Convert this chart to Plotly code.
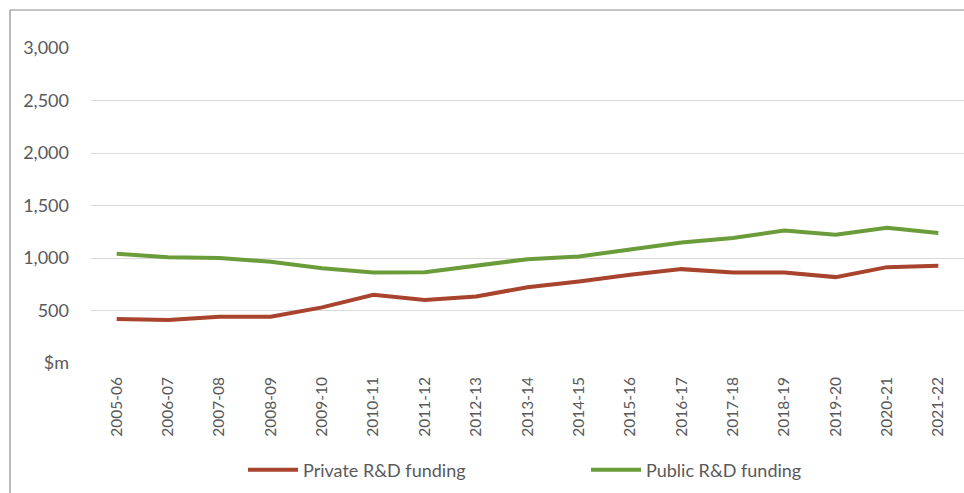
import plotly.graph_objects as go

# Financial years on the category axis
years = ["2005-06", "2006-07", "2007-08", "2008-09", "2009-10", "2010-11",
         "2011-12", "2012-13", "2013-14", "2014-15", "2015-16", "2016-17",
         "2017-18", "2018-19", "2019-20", "2020-21", "2021-22"]

# R&D funding, $m
private_rd = [420, 410, 440, 440, 530, 649, 601, 633, 722, 776, 840, 894,
              862, 862, 818, 913, 926]
public_rd = [1040, 1008, 999, 964, 903, 862, 865, 929, 989, 1014, 1078, 1148,
             1190, 1262, 1221, 1288, 1238]

y_ticks = [0, 500, 1000, 1500, 2000, 2500, 3000]
y_tick_text = ["$m", "500", "1,000", "1,500", "2,000", "2,500", "3,000"]

RED = "#A8432D"
GREEN = "#6A9C3A"
TEXT = "#595959"
FONT = "Lato"

W, H = 964, 493
ML, MR, MT, MB = 91, 0, 48, 130

fig = go.Figure()
fig.add_trace(go.Scatter(x=years, y=private_rd, mode="lines",
                         name="Private R&D funding",
                         line=dict(color=RED, width=4)))
fig.add_trace(go.Scatter(x=years, y=public_rd, mode="lines",
                         name="Public R&D funding",
                         line=dict(color=GREEN, width=4)))

# Grey frame along the top and left edges of the chart
pw = W - ML - MR
ph = H - MT - MB
bx = (10 - ML) / pw
by = (H - 10 - MB) / ph
fig.add_shape(type="line", xref="paper", yref="paper", x0=bx, x1=(W - ML) / pw + 0.01,
              y0=by, y1=by, line=dict(color="#8c8c8c", width=1.2))
fig.add_shape(type="line", xref="paper", yref="paper", x0=bx, x1=bx,
              y0=by, y1=-MB / ph - 0.01, line=dict(color="#8c8c8c", width=1.2))

fig.update_layout(
    width=W, height=H,
    margin=dict(l=ML, r=MR, t=MT, b=MB),
    paper_bgcolor="white", plot_bgcolor="white",
    font=dict(family=FONT, size=14, color=TEXT),
    showlegend=True,
    legend=dict(orientation="h", x=(243 - ML) / pw, xanchor="left",
                y=-(470 - H + MB) / ph, yanchor="middle",
                itemwidth=50, entrywidth=278, entrywidthmode="pixels",
                font=dict(family=FONT, size=18, color=TEXT),
                bgcolor="rgba(0,0,0,0)"),
    xaxis=dict(type="category", range=[-0.5, len(years) - 0.5],
               showgrid=False, showline=False, zeroline=False,
               tickangle=-90, ticks="", ticklabelstandoff=10,
               tickfont=dict(family=FONT, size=15.5, color=TEXT)),
    yaxis=dict(range=[0, 3000], tickvals=y_ticks, ticktext=y_tick_text,
               showgrid=True, gridcolor="#d9d9d9", gridwidth=1,
               zeroline=False, showline=False, ticks="",
               ticklabelstandoff=21,
               tickfont=dict(family=FONT, size=18, color=TEXT)),
)

fig.write_html("out.html")
